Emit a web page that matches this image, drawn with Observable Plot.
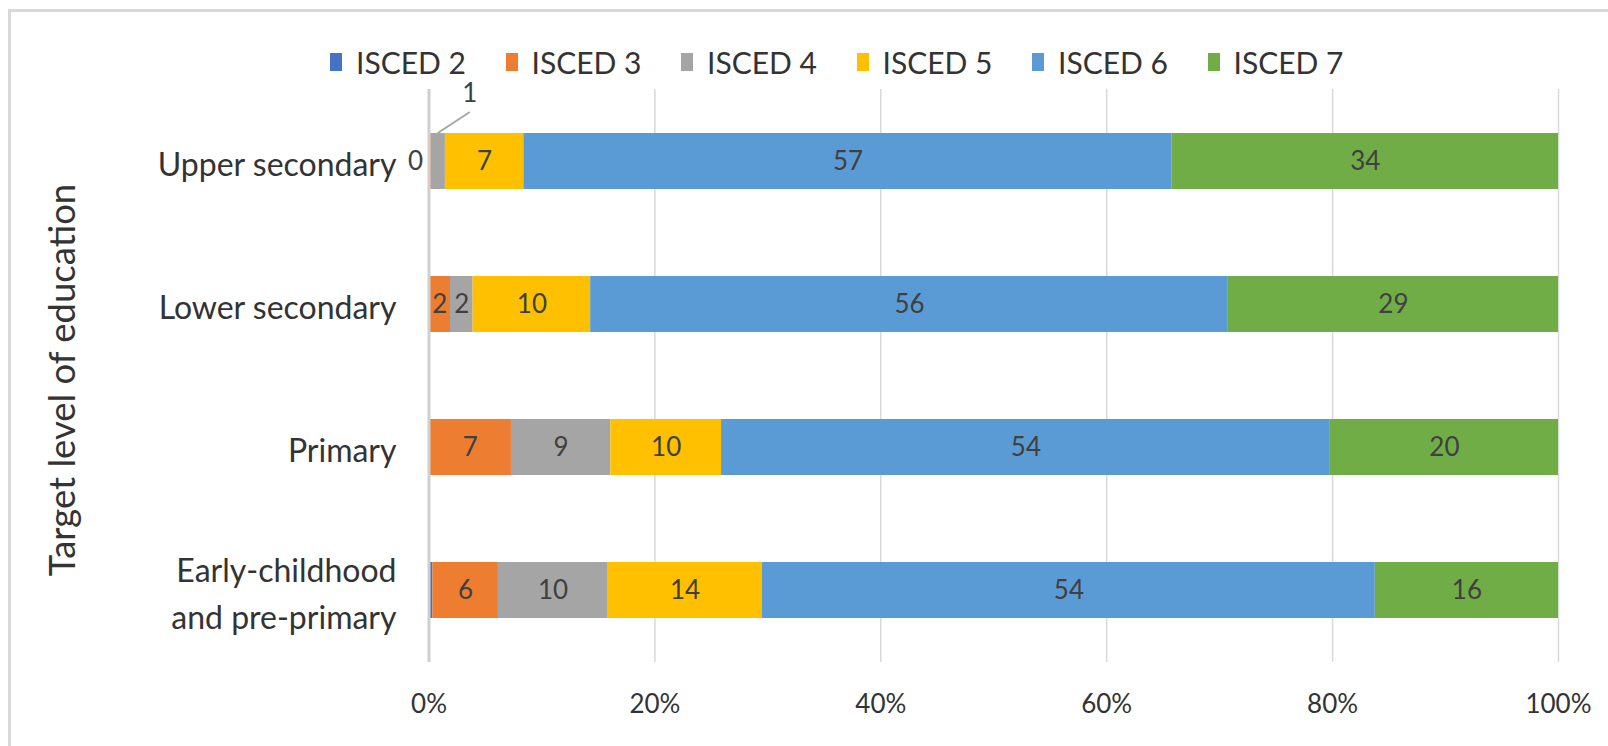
<!DOCTYPE html>
<html>
<head>
<meta charset="utf-8">
<script src="https://cdn.jsdelivr.net/npm/d3@7"></script>
<script src="https://cdn.jsdelivr.net/npm/@observablehq/plot@0.6"></script>
<style>
  html, body { margin: 0; padding: 0; background: #fff; overflow: hidden; width: 1608px; height: 746px; }
  body { position: relative; font-family: Lato, "Open Sans", sans-serif; }
  #frame { position: absolute; left: 8px; top: 9px; width: 1700px; height: 800px; box-sizing: border-box;
           border-top: 3px solid #d9d9d9; border-left: 3px solid #d9d9d9; }
  #plot { position: absolute; left: 0; top: 0; width: 1608px; height: 746px; }
  #legend { position: absolute; left: 0; top: 0; display: flex; height: 80px; box-sizing: border-box;
            padding-top: 47px; padding-left: 330px; }
  .item { display: flex; align-items: center; width: 175.5px; height: 30px; }
  .sw { width: 12px; height: 18px; flex: none; }
  .lab { margin-left: 14px; font-size: 30px; line-height: 30px; color: #333; white-space: nowrap; }
  #ytitle { position: absolute; left: 61px; top: 380px; transform: translate(-50%, -50%) rotate(-90deg);
            font-size: 36.5px; color: #333; white-space: nowrap; }
  svg { display: block; overflow: visible; }
</style>
</head>
<body>
<div id="frame"></div>
<div id="plot"></div>
<div id="legend"></div>
<div id="ytitle">Target level of education</div>
<script>
// ---- data (percent shares) ----
const categories = ["Upper secondary", "Lower secondary", "Primary", "Early-childhood and pre-primary"];
const categoryLabels = ["Upper secondary", "Lower secondary", "Primary", "Early-childhood\nand pre-primary"];
const series = ["ISCED 2", "ISCED 3", "ISCED 4", "ISCED 5", "ISCED 6", "ISCED 7"];
const colors = ["#4472C4", "#ED7D31", "#A5A5A5", "#FFC000", "#5B9BD5", "#70AD47"];
const isced2 = [0, 0, 0, 0.34];
const isced3 = [0.2, 1.9, 7.3, 5.8];
const isced4 = [1.25, 2.0, 8.8, 9.65];
const isced5 = [6.95, 10.4, 9.8, 13.7];
const isced6 = [57.4, 56.4, 53.9, 54.2];
const isced7 = [34.2, 29.2, 20.2, 16.2];
const xTicks = [0, 0.2, 0.4, 0.6, 0.8, 1];
const yTitle = "Target level of education";

const seriesValues = [isced2, isced3, isced4, isced5, isced6, isced7];
const rows = categories.flatMap((cat, i) =>
  series.map((s, j) => ({cat, series: s, value: seriesValues[j][i]})));

// legend
const legend = document.getElementById("legend");
series.forEach((s, j) => {
  const it = document.createElement("div");
  it.className = "item";
  it.innerHTML = `<span class="sw" style="background:${colors[j]}"></span><span class="lab">${s}</span>`;
  legend.appendChild(it);
});
document.getElementById("ytitle").textContent = yTitle;

// in-bar labels: ISCED 2 never labelled, small segments labelled outside
const inBar = d => d.series !== "ISCED 2" && d.value >= 1.5 ? String(Math.round(d.value)) : "";
const leftLabelRows = rows.filter(d => d.cat === categories[0] && d.series === "ISCED 3");
const calloutRow = rows.find(d => d.cat === categories[0] && d.series === "ISCED 4");

function callout(index, scales) {
  const sx = scales.x, sy = scales.y;
  const catRows = rows.filter(d => d.cat === calloutRow.cat);
  const total = d3.sum(catRows, d => d.value);
  let before = 0;
  for (const d of catRows) { if (d === calloutRow) break; before += d.value; }
  const mid = (before + calloutRow.value / 2) / total;
  const x0 = sx(mid), y0 = sy(calloutRow.cat);
  const g = d3.create("svg:g");
  g.append("line").attr("x1", x0).attr("y1", y0).attr("x2", x0 + 32).attr("y2", y0 - 21)
    .attr("stroke", "#a6a6a6").attr("stroke-width", 2);
  g.append("text").attr("x", x0 + 32).attr("y", y0 - 40).attr("text-anchor", "middle")
    .attr("dy", "0.35em").attr("fill", "#404040").attr("font-size", 26)
    .text(String(Math.round(calloutRow.value)));
  return g.node();
}

const chart = Plot.plot({
  width: 1608,
  height: 746,
  marginTop: 89,
  marginBottom: 84,
  marginLeft: 428.5,
  marginRight: 50,
  style: {fontFamily: "Lato, 'Open Sans', sans-serif", background: "transparent", color: "#333"},
  x: {domain: [0, 1]},
  y: {domain: categories, paddingInner: 0.609, paddingOuter: 0.30},
  color: {domain: series, range: colors},
  marks: [
    Plot.ruleX(xTicks.slice(1), {stroke: "#d9d9d9", strokeWidth: 1.5}),
    Plot.barX(rows, Plot.stackX({x: "value", y: "cat", fill: "series", offset: "normalize", order: series})),
    Plot.ruleX([0], {stroke: "#cfcfcf", strokeWidth: 3}),
    Plot.text(rows, Plot.stackX({x: "value", y: "cat", z: "series", offset: "normalize", order: series,
      text: inBar, fill: "#404040", fontSize: 26})),
    Plot.text(leftLabelRows, {x: () => 0, y: "cat", text: d => String(Math.round(d.value)),
      textAnchor: "end", dx: -6, fill: "#404040", fontSize: 26}),
    callout,
    Plot.axisX({ticks: xTicks, tickFormat: d3.format(".0%"), tickSize: 0, tickPadding: 32,
      fontSize: 26, fill: "#333", label: null}),
    Plot.axisY({tickSize: 0, tickPadding: 32.5, fontSize: 32, fill: "#333", label: null,
      tickFormat: c => categoryLabels[categories.indexOf(c)], lineHeight: 1.45})
  ]
});
document.getElementById("plot").appendChild(chart);
</script>
</body>
</html>
